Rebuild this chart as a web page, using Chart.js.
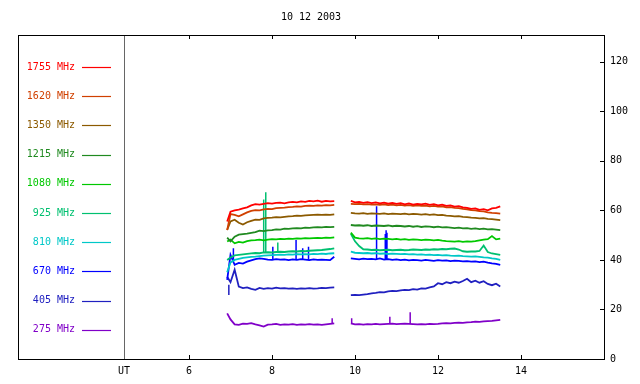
<!DOCTYPE html>
<html>
<head>
<meta charset="utf-8">
<script src="https://cdn.jsdelivr.net/npm/chart.js@4/dist/chart.umd.min.js"></script>
<style>
  html, body { margin: 0; padding: 0; background: #fff; }
  #wrap { width: 640px; height: 384px; }
</style>
</head>
<body>
<div id="wrap"><canvas id="chart" width="640" height="384"></canvas></div>
<script>
// time grid (UT hours), 9.7 is the data gap
const times = [6.92, 7.0, 7.1, 7.2, 7.3, 7.4, 7.5, 7.6, 7.7, 7.8, 7.9, 8.0, 8.1, 8.2, 8.3, 8.4, 8.5, 8.6, 8.7, 8.8, 8.9, 9.0, 9.1, 9.2, 9.3, 9.4, 9.5,
    9.7,
    9.9, 10.0, 10.1, 10.2, 10.3, 10.4, 10.5, 10.6, 10.7, 10.8, 10.9, 11.0, 11.1, 11.2, 11.3, 11.4, 11.5, 11.6, 11.7, 11.8, 11.9,
    12.0, 12.1, 12.2, 12.3, 12.4, 12.5, 12.6, 12.7, 12.8, 12.9, 13.0, 13.1, 13.2, 13.3, 13.4, 13.5];

const s1755 = [55.5, 59.5, 60.0, 60.3, 60.8, 61.2, 62.0, 62.5, 62.3, 62.6, 62.9, 62.7, 63.0, 63.1, 62.8, 63.2, 63.4, 63.2, 63.6, 63.4, 63.8, 63.6, 63.9, 63.5, 63.8, 63.6, 63.7,
    null,
    63.8, 63.2, 63.4, 63.0, 63.3, 62.9, 63.2, 62.8, 63.1, 62.7, 63.0, 62.6, 62.9, 62.4, 62.8, 62.3, 62.6, 62.4, 62.7, 62.2, 62.5, 62.0, 62.3, 61.8, 62.0, 61.5, 61.7, 61.2, 61.0, 60.6, 60.8, 60.2, 60.5, 60.0, 60.8, 61.0, 61.6];
const s1620 = [52.0, 58.5, 58.2, 57.6, 58.4, 59.2, 59.8, 60.1, 60.0, 60.4, 60.6, 60.5, 60.9, 61.0, 61.1, 61.3, 61.4, 61.6, 61.5, 61.8, 61.9, 61.8, 62.0, 61.9, 62.1, 62.0, 62.2,
    null,
    62.6, 62.5, 62.6, 62.4, 62.5, 62.3, 62.4, 62.2, 62.4, 62.1, 62.3, 62.0, 62.2, 61.9, 62.1, 61.8, 62.0, 61.8, 61.9, 61.6, 61.8, 61.5, 61.6, 61.2, 61.3, 61.0, 60.9, 60.6, 60.4, 60.1, 60.0, 59.7, 59.6, 59.2, 59.0, 58.9, 58.7];
const s1350 = [52.1, 55.5, 56.2, 55.0, 54.3, 55.2, 55.8, 56.3, 56.2, 56.8, 57.0, 57.1, 57.3, 57.2, 57.4, 57.6, 57.7, 57.9, 57.8, 58.0, 58.1, 58.2, 58.3, 58.2, 58.3, 58.2, 58.4,
    null,
    59.0, 58.8, 58.7, 58.9, 58.6, 58.8, 58.7, 58.6, 58.8, 58.5, 58.7, 58.6, 58.5, 58.7, 58.4, 58.6, 58.5, 58.3, 58.5, 58.2, 58.4, 58.1, 58.2, 57.9, 57.8, 57.6, 57.7, 57.4, 57.3, 57.1, 57.0, 56.8, 56.9, 56.6, 56.5, 56.3, 56.1];
const s1215 = [49.0, 47.5, 49.4, 50.2, 50.4, 50.6, 50.9, 51.2, 51.8, 51.6, 51.9, 52.0, 52.3, 52.2, 52.6, 52.5, 52.7, 52.8, 52.7, 53.0, 52.9, 53.1, 53.2, 53.1, 53.3, 53.2, 53.3,
    null,
    54.1, 53.9, 54.0, 53.8, 54.0, 53.7, 53.9, 53.8, 53.7, 53.9, 53.6, 53.8, 53.7, 53.5, 53.7, 53.4, 53.6, 53.3, 53.5, 53.4, 53.2, 53.4, 53.1, 53.2, 53.0, 52.8, 53.0, 52.7, 52.8, 52.5, 52.7, 52.4, 52.6, 52.3, 52.4, 52.2, 52.0];
const s1080 = [47.4, 48.2, 46.7, 47.3, 47.0, 47.6, 47.9, 48.0, 48.2, 47.9, 48.2, 48.4, 48.3, 48.5, 48.4, 48.6, 48.5, 48.7, 48.6, 48.8, 48.7, 48.8, 48.9, 48.8, 49.0, 48.9, 49.1,
    null,
    51.0, 49.0, 48.7, 48.6, 48.8, 48.5, 48.7, 48.4, 48.6, 48.5, 48.3, 48.5, 48.2, 48.4, 48.1, 48.3, 48.2, 48.0, 48.2, 48.1, 47.9, 48.1, 47.8, 47.6, 47.5, 47.4, 47.6, 47.3, 47.5, 47.4, 47.6, 47.9, 48.2, 48.4, 49.6, 48.3, 48.6];
const s925 = [40.0, 41.0, 41.8, 42.0, 42.2, 42.4, 42.6, 42.8, 42.7, 43.0, 43.1, 43.0, 43.2, 43.3, 43.2, 43.4, 43.5, 43.4, 43.6, 43.5, 43.7, 43.8, 43.9, 44.0, 44.2, 44.4, 44.7,
    null,
    50.5, 47.5, 45.6, 44.3, 44.2, 44.0, 44.1, 43.9, 44.0, 44.1, 43.9, 44.0, 44.1, 43.9, 44.0, 44.2, 44.1, 44.0, 44.2, 44.1, 44.3, 44.2, 44.4, 44.3, 44.5, 44.6, 44.2, 43.5, 43.3, 43.4, 43.4, 43.6, 45.8, 43.2, 42.6, 42.3, 42.0];
const s810 = [35.0, 39.0, 40.0, 40.4, 40.8, 41.0, 41.2, 41.3, 41.5, 41.7, 41.8, 41.9, 42.0, 42.1, 42.0, 42.2, 42.1, 42.3, 42.2, 42.3, 42.2, 42.4, 42.3, 42.5, 42.4, 42.6, 42.7,
    null,
    43.3, 42.9, 42.8, 42.7, 42.8, 42.6, 42.7, 42.5, 42.6, 42.4, 42.5, 42.4, 42.3, 42.4, 42.2, 42.3, 42.1, 42.2, 42.0, 42.1, 41.9, 42.0, 41.8, 41.9, 41.7, 41.6, 41.7, 41.5, 41.4, 41.3, 41.4, 41.2, 41.0, 40.9, 40.6, 40.4, 40.0];
const s670 = [31.9, 42.0, 38.0, 38.8, 38.5, 39.3, 39.8, 40.3, 40.6, 40.4, 40.1, 40.0, 40.3, 40.1, 40.2, 39.9, 40.2, 40.0, 40.3, 40.1, 39.9, 40.2, 40.0, 40.1, 40.0, 39.9, 41.3,
    null,
    40.6, 40.4, 40.2, 40.5, 40.3, 40.4, 40.2, 40.6, 40.1, 40.3, 40.0, 40.2, 39.9, 40.1, 39.8, 40.0, 39.9, 39.7, 40.0, 39.8, 39.6, 39.9, 39.7, 39.8, 39.5, 39.7, 39.6, 39.4, 39.5, 39.3, 39.4, 39.1, 39.3, 38.9, 38.6, 38.4, 38.0];
const s405 = [33.2, 31.0, 36.0, 29.2, 28.6, 28.9, 28.3, 27.9, 28.7, 28.3, 28.6, 28.4, 28.8, 28.5, 28.6, 28.4, 28.5, 28.3, 28.5, 28.4, 28.6, 28.4, 28.5, 28.7, 28.6, 28.8, 28.9,
    null,
    25.8, 25.9, 25.8, 26.0, 26.2, 26.5, 26.7, 27.0, 26.9, 27.3, 27.5, 27.4, 27.7, 27.9, 27.8, 28.2, 28.0, 28.5, 28.4, 28.9, 29.3, 30.6, 30.2, 31.0, 30.6, 31.2, 30.8, 31.5, 32.4, 31.0, 31.6, 30.8, 31.4, 30.3, 29.8, 30.4, 29.3];
const s275 = [18.4, 16.0, 14.0, 13.8, 14.3, 14.2, 14.5, 14.0, 13.6, 13.1, 13.9, 14.0, 14.2, 13.8, 14.0, 13.9, 14.1, 13.8, 14.0, 13.9, 14.1, 13.9, 14.0, 13.8, 14.0, 14.2, 14.4,
    null,
    14.4, 14.0, 14.1, 13.9, 14.1, 14.0, 14.2, 14.0, 14.1, 14.2, 14.3, 14.1, 14.2, 14.3, 14.2, 14.1, 14.0, 14.1, 14.0, 14.2, 14.1, 14.2, 14.4, 14.5, 14.4, 14.6, 14.7, 14.6, 14.8, 14.9, 15.1, 15.0, 15.2, 15.3, 15.4, 15.6, 15.8];

// short bursts: [time, level before, peak]
const spikes925 = [[7.80, 43.1, 64.4], [7.85, 43.1, 67.3], [8.14, 43.2, 47.0]];
const spikes670 = [[7.07, 40.0, 44.7], [8.02, 40.0, 45.3], [8.58, 40.0, 48.0], [8.74, 40.1, 44.7], [8.88, 40.1, 45.3],
    [10.52, 40.3, 61.7], [10.73, 40.2, 50.5], [10.75, 40.2, 52.0], [10.77, 40.2, 51.0]];
const spikes405 = [[6.96, 30.0, 25.8]];
const spikes275 = [[9.45, 14.1, 16.5], [9.92, 14.4, 16.5], [10.84, 14.2, 17.1], [11.33, 14.2, 18.9]];

const labels = ['1755 MHz', '1620 MHz', '1350 MHz', '1215 MHz', '1080 MHz', '925 MHz', '810 MHz', '670 MHz', '405 MHz', '275 MHz'];
const colors = ['#ff0000', '#d04000', '#8c5a00', '#208a20', '#00c800', '#00c070', '#00c8c8', '#0000ff', '#2020c0', '#8000c8'];
const series = [s1755, s1620, s1350, s1215, s1080, s925, s810, s670, s405, s275];
const spikes = [[], [], [], [], [], spikes925, [], spikes670, spikes405, spikes275];

const xTicks = [4.434, 6, 8, 10, 12, 14];
const xTickLabels = ['UT', '6', '8', '10', '12', '14'];
const yTicks = [0, 20, 40, 60, 80, 100, 120];
const title = '10 12 2003';

const FONT = "'DejaVu Sans Mono', monospace";

const datasets = [];
series.forEach(function (vals, i) {
    datasets.push({
        label: labels[i],
        data: times.map((t, k) => ({x: t, y: vals[k]})),
        borderColor: colors[i],
        borderWidth: 1.8,
        pointRadius: 0,
        tension: 0,
        spanGaps: false,
    });
});
spikes.forEach(function (list, i) {
    if (!list.length) return;
    const pts = [];
    list.forEach(function (s) {
        pts.push({x: s[0], y: s[1]}, {x: s[0], y: s[2]}, {x: s[0], y: null});
    });
    datasets.push({
        label: labels[i] + ' bursts',
        data: pts,
        borderColor: colors[i],
        borderWidth: 1.5,
        pointRadius: 0,
        spanGaps: false,
    });
});

// frame, inward ticks, title and the left legend column
const framePlugin = {
    id: 'frame',
    afterDraw(chart) {
        const {ctx, chartArea: a, scales} = chart;
        const left = 18;
        ctx.save();
        ctx.lineWidth = 1;
        ctx.strokeStyle = '#000';
        ctx.strokeRect(left + 0.5, a.top + 0.5, a.right - left, a.bottom - a.top);
        ctx.strokeStyle = '#666';
        ctx.beginPath();
        ctx.moveTo(a.left + 0.5, a.top + 1);
        ctx.lineTo(a.left + 0.5, a.bottom);
        ctx.stroke();

        ctx.strokeStyle = '#000';
        ctx.beginPath();
        xTicks.slice(1).forEach(function (v) {
            const px = Math.round(scales.x.getPixelForValue(v)) + 0.5;
            ctx.moveTo(px, a.bottom);
            ctx.lineTo(px, a.bottom - 4);
            ctx.moveTo(px, a.top);
            ctx.lineTo(px, a.top + 4);
        });
        yTicks.forEach(function (v) {
            const py = Math.round(scales.y.getPixelForValue(v)) + 0.5;
            ctx.moveTo(a.right, py);
            ctx.lineTo(a.right - 4, py);
        });
        ctx.stroke();

        ctx.font = '10px ' + FONT;
        ctx.fillStyle = '#000';
        ctx.textAlign = 'center';
        ctx.textBaseline = 'middle';
        ctx.fillText(title, (left + a.right) / 2, 17);

        ctx.textAlign = 'right';
        labels.forEach(function (lab, i) {
            const y = 67 + i * 29.2;
            ctx.fillStyle = colors[i];
            ctx.fillText(lab, 75, y);
            ctx.strokeStyle = colors[i];
            ctx.lineWidth = 1.2;
            ctx.beginPath();
            ctx.moveTo(82, Math.round(y) + 0.5);
            ctx.lineTo(111, Math.round(y) + 0.5);
            ctx.stroke();
        });
        ctx.restore();
    }
};

new Chart(document.getElementById('chart'), {
    type: 'line',
    data: {datasets: datasets},
    options: {
        responsive: false,
        animation: false,
        layout: {padding: {left: 124, top: 35, right: 0, bottom: 0}},
        plugins: {
            legend: {display: false},
            title: {display: false},
            tooltip: {enabled: false},
        },
        scales: {
            x: {
                type: 'linear',
                position: 'bottom',
                min: 4.434,
                max: 16,
                afterBuildTicks: function (scale) {
                    scale.ticks = xTicks.map(v => ({value: v}));
                },
                afterFit: function (scale) {
                    scale.height = 25;
                },
                ticks: {
                    autoSkip: false,
                    maxRotation: 0,
                    padding: 6,
                    color: '#000',
                    font: {family: FONT, size: 10},
                    callback: function (v, i) {
                        return xTickLabels[i];
                    },
                },
                grid: {display: false, drawTicks: false},
                border: {display: false},
            },
            y: {
                type: 'linear',
                position: 'right',
                min: 0,
                max: 130.8,
                afterBuildTicks: function (scale) {
                    scale.ticks = yTicks.map(v => ({value: v}));
                },
                afterFit: function (scale) {
                    scale.width = 36;
                },
                ticks: {
                    padding: 6,
                    color: '#000',
                    font: {family: FONT, size: 10},
                },
                grid: {display: false, drawTicks: false},
                border: {display: false},
            },
        },
    },
    plugins: [framePlugin],
});
</script>
</body>
</html>
